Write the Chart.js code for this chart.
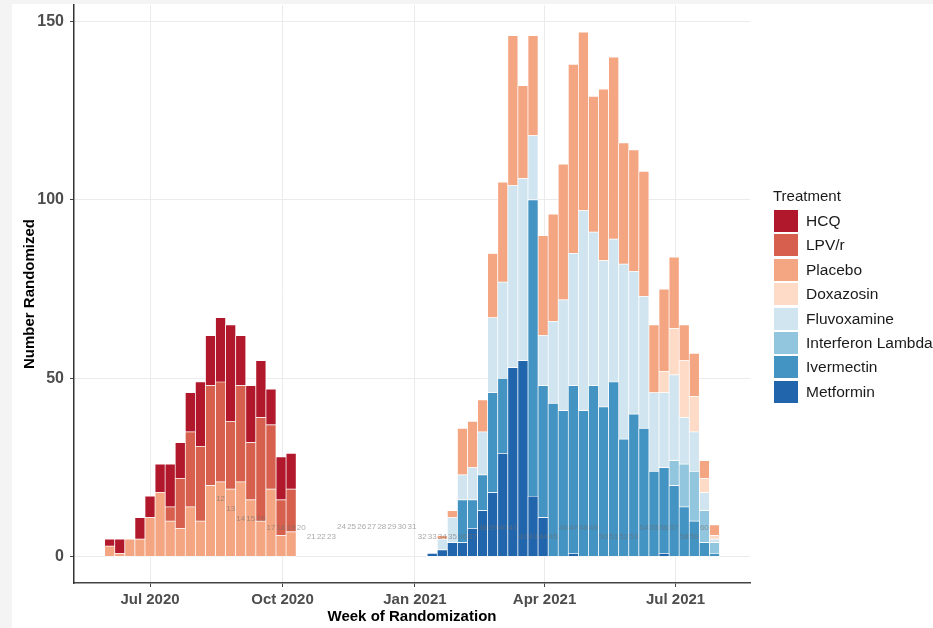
<!DOCTYPE html>
<html>
<head>
<meta charset="utf-8">
<script src="https://cdn.jsdelivr.net/npm/chart.js@4.4.1/dist/chart.umd.min.js"></script>
<style>
  html, body { margin: 0; padding: 0; width: 933px; height: 628px; overflow: hidden; background: #f4f4f4; }
  #card { position: absolute; left: 12px; top: 4px; right: 0; bottom: 0; background: #fff; }
  #chart { position: absolute; left: 0; top: 0; }
  #legend { position: absolute; left: 0; top: 0; font-family: "Liberation Sans", Arial, sans-serif; color: #1a1a1a; white-space: nowrap; }
  #legend .title { position: absolute; left: 773px; font-size: 15px; line-height: 18px; }
  #legend .box { position: absolute; left: 774px; width: 24px; height: 22px; }
  #legend .txt { position: absolute; left: 806px; font-size: 15.5px; line-height: 18px; }
</style>
</head>
<body>
<div id="card"></div>
<canvas id="chart" width="933" height="628"></canvas>
<div id="legend"></div>
<script>
// week numbers that have a bar (week 1 is centred on 3 June 2020)
const weeks = [1, 2, 3, 4, 5, 6, 7, 8, 9, 10, 11, 12, 13, 14, 15, 16, 17, 18, 19,
  33, 34, 35, 36, 37, 38, 39, 40, 41, 42, 43, 44, 45, 46, 47, 48, 49, 50, 51, 52, 53, 54, 55, 56, 57, 58, 59, 60, 61];
const week1Date = "2020-06-03";

// legend order (first one sits on top of each stack)
const treatments = ["HCQ", "LPV/r", "Placebo", "Doxazosin", "Fluvoxamine", "Interferon Lambda", "Ivermectin", "Metformin"];
const colors = ["#b2182b", "#d6604d", "#f4a582", "#fddbc7", "#d1e5f0", "#92c5de", "#4393c3", "#2166ac"];

// counts per week, same order as weeks
const hcq = [2, 4, 0, 6, 6, 8, 12, 10, 11, 18, 14, 18, 27, 14, 16, 16, 10, 12, 10,
  0, 0, 0, 0, 0, 0, 0, 0, 0, 0, 0, 0, 0, 0, 0, 0, 0, 0, 0, 0, 0, 0, 0, 0, 0, 0, 0, 0, 0, 0];
const lpvr = [0, 0, 0, 0, 0, 0, 4, 14, 21, 21, 28, 28, 19, 27, 16, 29, 18, 10, 12,
  0, 0, 0, 0, 0, 0, 0, 0, 0, 0, 0, 0, 0, 0, 0, 0, 0, 0, 0, 0, 0, 0, 0, 0, 0, 0, 0, 0, 0, 0];
const placebo = [3, 1, 5, 5, 11, 18, 10, 8, 14, 10, 20, 21, 19, 21, 16, 10, 19, 6, 7,
  0, 1, 2, 13, 13, 9, 18, 28, 42, 26, 28, 28, 30, 38, 53, 50, 38, 48, 51, 34, 34, 35, 19, 23, 20, 10, 12, 5, 3];
const doxazosin = [0, 0, 0, 0, 0, 0, 0, 0, 0, 0, 0, 0, 0, 0, 0, 0, 0, 0, 0,
  0, 0, 0, 0, 0, 0, 0, 0, 0, 0, 0, 0, 0, 0, 0, 0, 0, 0, 0, 0, 0, 0, 0, 6, 13, 16, 10, 4, 1];
const fluvoxamine = [0, 0, 0, 0, 0, 0, 0, 0, 0, 0, 0, 0, 0, 0, 0, 0, 0, 0, 0,
  0, 3, 7, 7, 9, 12, 21, 27, 51, 51, 18, 14, 23, 31, 37, 56, 43, 41, 40, 49, 40, 37, 22, 21, 24, 13, 11, 5, 1];
const interferon = [0, 0, 0, 0, 0, 0, 0, 0, 0, 0, 0, 0, 0, 0, 0, 0, 0, 0, 0,
  0, 0, 0, 0, 0, 0, 0, 0, 0, 0, 0, 0, 0, 0, 0, 0, 0, 0, 0, 0, 0, 0, 0, 0, 7, 12, 14, 9, 3];
const ivermectin = [0, 0, 0, 0, 0, 0, 0, 0, 0, 0, 0, 0, 0, 0, 0, 0, 0, 0, 0,
  0, 0, 0, 12, 8, 10, 28, 21, 0, 0, 83, 37, 43, 41, 47, 41, 48, 42, 49, 33, 40, 36, 24, 24, 20, 14, 10, 4, 1];
const metformin = [0, 0, 0, 0, 0, 0, 0, 0, 0, 0, 0, 0, 0, 0, 0, 0, 0, 0, 0,
  1, 2, 4, 4, 8, 13, 18, 29, 53, 55, 17, 11, 0, 0, 1, 0, 0, 0, 0, 0, 0, 0, 0, 1, 0, 0, 0, 0, 0];
const series = [hcq, lpvr, placebo, doxazosin, fluvoxamine, interferon, ivermectin, metformin];

// little week-number labels printed inside the plot
const labelWeeks = [12, 13, 14, 15, 16, 17, 18, 19, 20, 21, 22, 23, 24, 25, 26, 27, 28, 29, 30, 31,
  32, 33, 34, 35, 36, 37, 38, 39, 40, 41, 42, 43, 44, 45, 46, 47, 48, 49, 50, 51, 52, 53,
  54, 55, 56, 57, 58, 59, 60];
const labelHeights = [16.2, 13.4, 10.6, 10.6, 10.6, 8.2, 8.2, 8.2, 8.2, 5.6, 5.6, 5.6,
  8.4, 8.4, 8.4, 8.4, 8.4, 8.4, 8.4, 8.4,
  5.7, 5.7, 5.7, 5.7, 5.7, 5.7, 8.3, 8.3, 8.3, 8.3, 5.6, 5.6, 5.6, 5.6,
  8.3, 8.3, 8.3, 8.3, 5.6, 5.6, 5.6, 5.6, 8.3, 8.3, 8.3, 8.3, 5.6, 5.6, 8.3];

// axis ticks
const xTickDates = ["2020-07-01", "2020-10-01", "2021-01-01", "2021-04-01", "2021-07-01"];
const xTickLabels = ["Jul 2020", "Oct 2020", "Jan 2021", "Apr 2021", "Jul 2021"];
const yTicks = [0, 50, 100, 150];

const FONT = "'Liberation Sans', Arial, sans-serif";
const origin = Date.parse("2020-07-01");
function dayOf(d) {
  return (Date.parse(d) - origin) / 86400000;
}
function weekDay(w) {
  return dayOf(week1Date) + 7 * (w - 1);
}

// datasets are stacked bottom up, so go through the legend backwards
const datasets = [];
for (let i = treatments.length - 1; i >= 0; i--) {
  datasets.push({
    label: treatments[i],
    data: weeks.map((w, j) => ({ x: weekDay(w), y: series[i][j] || null })),
    backgroundColor: colors[i],
    borderColor: "#ffffff",
    borderWidth: 0.7,
    borderSkipped: false,
    categoryPercentage: 1,
    barPercentage: 1,
  });
}

const weekLabels = {
  id: "weekLabels",
  afterDatasetsDraw(chart) {
    const { ctx, scales } = chart;
    ctx.save();
    ctx.font = "8px 'Liberation Sans', sans-serif";
    ctx.fillStyle = "rgba(110,110,110,0.6)";
    ctx.textAlign = "center";
    ctx.textBaseline = "middle";
    labelWeeks.forEach((w, i) => {
      ctx.fillText(String(w), scales.x.getPixelForValue(weekDay(w)), scales.y.getPixelForValue(labelHeights[i]));
    });
    ctx.restore();
  },
};

new Chart(document.getElementById("chart").getContext("2d"), {
  type: "bar",
  data: { datasets: datasets },
  plugins: [weekLabels],
  options: {
    responsive: false,
    animation: false,
    layout: { padding: { top: 5, right: 183, bottom: 0, left: 0 } },
    plugins: { legend: { display: false }, tooltip: { enabled: false } },
    scales: {
      x: {
        type: "linear",
        stacked: true,
        offset: false,
        min: -52.8,
        max: 416.7,
        afterBuildTicks: (s) => {
          s.ticks = xTickDates.map((d) => ({ value: dayOf(d) }));
        },
        afterFit: (s) => {
          s.height = 45;
          s.paddingLeft = 0;
          s.paddingRight = 0;
        },
        ticks: {
          autoSkip: false,
          maxRotation: 0,
          padding: 4,
          color: "#4d4d4d",
          font: { family: FONT, size: 15, weight: "bold" },
          callback: (v, i) => xTickLabels[i],
        },
        grid: { color: "#ebebeb", tickColor: "#444", tickLength: 4, offset: false },
        border: { display: true, color: "#444", width: 1.5 },
        title: {
          display: true,
          text: "Week of Randomization",
          color: "#000",
          font: { family: FONT, size: 15, weight: "bold" },
          padding: { top: 0, bottom: 2 },
        },
      },
      y: {
        stacked: true,
        min: -7.3,
        max: 154.6,
        afterBuildTicks: (s) => {
          s.ticks = yTicks.map((v) => ({ value: v }));
        },
        afterFit: (s) => {
          s.width = 74;
          s.paddingTop = 0;
          s.paddingBottom = 0;
        },
        ticks: {
          padding: 6,
          color: "#4d4d4d",
          font: { family: FONT, size: 16, weight: "bold" },
        },
        grid: { color: "#ebebeb", tickColor: "#444", tickLength: 4 },
        border: { display: true, color: "#333", width: 1.5 },
        title: {
          display: true,
          text: "Number Randomized",
          color: "#000",
          font: { family: FONT, size: 15, weight: "bold" },
          padding: { top: 21, bottom: 0 },
        },
      },
    },
  },
});

// legend drawn as html, same look as the ggplot key
const legend = document.getElementById("legend");
legend.innerHTML += `<div class="title" style="top:187px">Treatment</div>`;
treatments.forEach((name, i) => {
  const mid = 221 + i * 24.4;
  legend.innerHTML += `<div class="box" style="top:${mid - 11}px;background:${colors[i]}"></div>`;
  legend.innerHTML += `<div class="txt" style="top:${mid - 9}px">${name}</div>`;
});
</script>
</body>
</html>
